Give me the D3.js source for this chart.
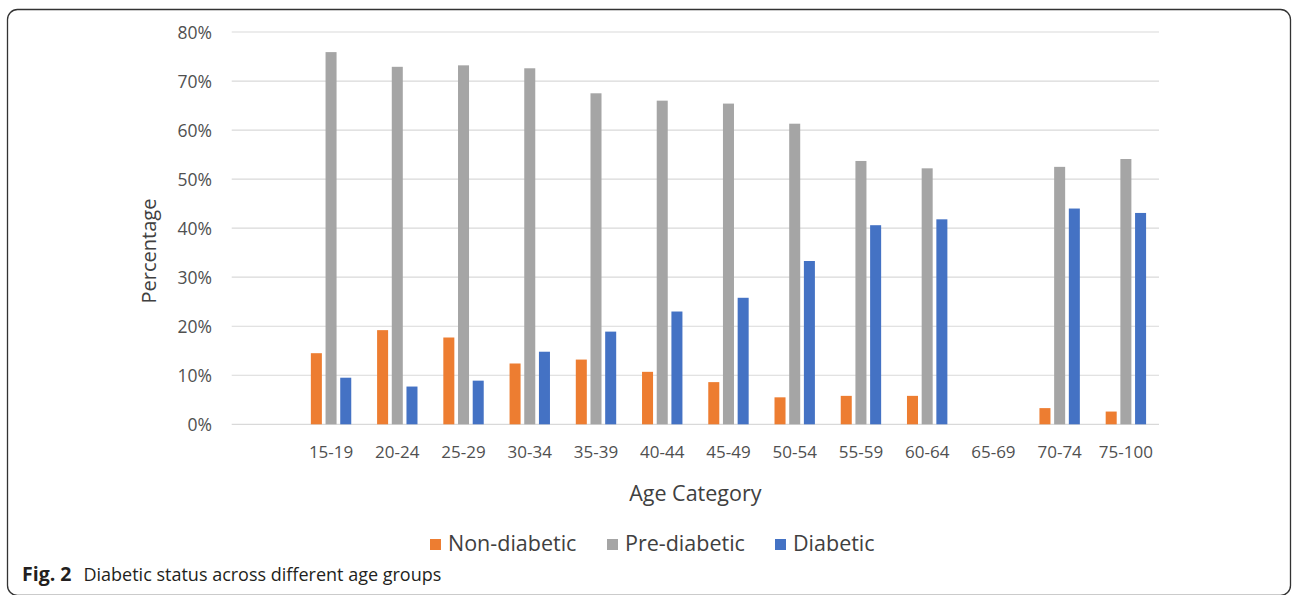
<!DOCTYPE html>
<html>
<head>
<meta charset="utf-8">
<script src="https://cdn.jsdelivr.net/npm/d3@7"></script>
<style>
  html, body { margin: 0; padding: 0; background: #fff; }
  svg { display: block; }
</style>
</head>
<body>
<svg id="chart" width="1292" height="595"></svg>
<script>
// ---- data ----
const categories = ["", "15-19", "20-24", "25-29", "30-34", "35-39", "40-44", "45-49", "50-54", "55-59", "60-64", "65-69", "70-74", "75-100"];
const seriesNames = ["Non-diabetic", "Pre-diabetic", "Diabetic"];
const nonDiabetic = [null, 14.5, 19.2, 17.7, 12.4, 13.2, 10.7, 8.6, 5.5, 5.8, 5.8, null, 3.3, 2.6];
const preDiabetic = [null, 75.9, 72.9, 73.2, 72.6, 67.5, 66.0, 65.4, 61.3, 53.7, 52.2, null, 52.5, 54.1];
const diabetic    = [null, 9.5, 7.7, 8.9, 14.8, 18.9, 23.0, 25.8, 33.3, 40.6, 41.8, null, 44.0, 43.1];
const yTicks = [0, 10, 20, 30, 40, 50, 60, 70, 80];
const colors = ["#ED7D31", "#A5A5A5", "#4472C4"];
const xTitle = "Age Category";
const yTitle = "Percentage";
const captionBold = "Fig. 2";
const captionText = "Diabetic status across different age groups";

const seriesValues = [nonDiabetic, preDiabetic, diabetic];

const svg = d3.select("#chart");
const font = "'Open Sans', 'Noto Sans', sans-serif";

// frame
svg.append("rect")
  .attr("x", 7.5).attr("y", 9.5)
  .attr("width", 1283).attr("height", 586)
  .attr("rx", 10).attr("ry", 10)
  .attr("fill", "none").attr("stroke", "#333").attr("stroke-width", 1.3);

const plotLeft = 231.7, plotRight = 1159, plotTop = 32, plotBottom = 424.3;

const x = d3.scaleBand().domain(categories).range([plotLeft, plotRight]).padding(0);
const x1 = d3.scaleBand().domain(seriesNames).range([-20.2, 20.2]).paddingInner(0.25).paddingOuter(0);
const y = d3.scaleLinear().domain([0, 80]).range([plotBottom, plotTop]);

// gridlines
svg.append("g").selectAll("line").data(yTicks).join("line")
  .attr("x1", plotLeft).attr("x2", plotRight)
  .attr("y1", d => y(d)).attr("y2", d => y(d))
  .attr("stroke", "#D9D9D9").attr("stroke-width", 1.2);

// y axis labels
const yAxis = d3.axisLeft(y).tickValues(yTicks).tickFormat(d => d + "%").tickSize(0).tickPadding(0);
const gy = svg.append("g").attr("transform", `translate(212,0)`).call(yAxis);
gy.select(".domain").remove();
gy.selectAll("text")
  .attr("font-family", font).attr("font-size", 17.5).attr("fill", "#505050")
  .attr("dy", "0.38em");

// x axis labels
const xAxis = d3.axisBottom(x).tickSize(0).tickPadding(0);
const gx = svg.append("g").attr("transform", `translate(0,${plotBottom})`).call(xAxis);
gx.select(".domain").remove();
gx.selectAll("text")
  .attr("font-family", font).attr("font-size", 17).attr("fill", "#505050")
  .attr("y", 34).attr("dy", 0);

// bars
const flat = [];
categories.forEach((c, i) => {
  seriesNames.forEach((s, j) => {
    const v = seriesValues[j][i];
    if (v !== null && v !== undefined) flat.push({ cat: c, series: s, value: v, color: colors[j] });
  });
});
svg.append("g").selectAll("rect").data(flat).join("rect")
  .attr("x", d => x(d.cat) + x.bandwidth() / 2 + x1(d.series))
  .attr("width", x1.bandwidth())
  .attr("y", d => y(d.value))
  .attr("height", d => y(0) - y(d.value))
  .attr("fill", d => d.color);

// axis titles
svg.append("text")
  .attr("x", (plotLeft + plotRight) / 2).attr("y", 501)
  .attr("text-anchor", "middle")
  .attr("font-family", font).attr("font-size", 21.5).attr("fill", "#404040")
  .text(xTitle);

svg.append("text")
  .attr("transform", "translate(156,251) rotate(-90)")
  .attr("text-anchor", "middle")
  .attr("font-family", font).attr("font-size", 20).attr("fill", "#404040")
  .text(yTitle);

// legend
const legendItems = [
  { name: seriesNames[0], color: colors[0], x: 430 },
  { name: seriesNames[1], color: colors[1], x: 607 },
  { name: seriesNames[2], color: colors[2], x: 775 }
];
const lg = svg.append("g");
const li = lg.selectAll("g").data(legendItems).join("g")
  .attr("transform", d => `translate(${d.x},539)`);
li.append("rect").attr("width", 11).attr("height", 11).attr("fill", d => d.color);
li.append("text")
  .attr("x", 18).attr("y", 12)
  .attr("font-family", font).attr("font-size", 21.5).attr("fill", "#404040")
  .text(d => d.name);

// caption
const cap = svg.append("text")
  .attr("x", 22).attr("y", 581)
  .attr("font-family", font).attr("font-size", 18).attr("fill", "#231f20");
cap.append("tspan").attr("font-weight", "bold").attr("font-size", 19.5).text(captionBold);
cap.append("tspan").attr("dx", 12).text(captionText);
</script>
</body>
</html>
